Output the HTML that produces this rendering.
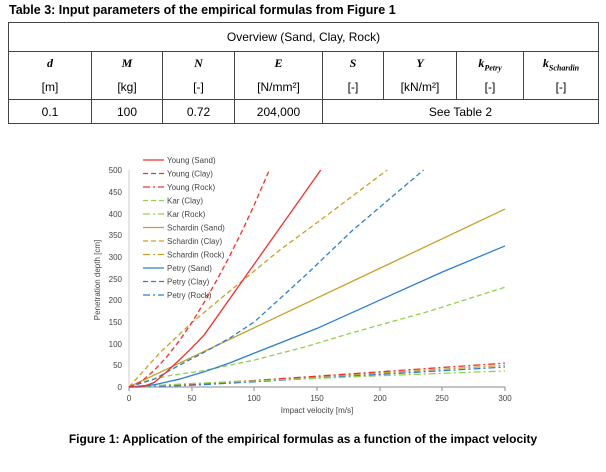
<!DOCTYPE html>
<html><head><meta charset="utf-8"><style>
body{margin:0;background:#fff;width:606px;height:472px;overflow:hidden;font-family:"Liberation Sans",sans-serif;}
.t{position:absolute;left:9px;top:3px;font-weight:bold;font-size:12.5px;}
table{position:absolute;left:8px;top:22px;width:591px;border-collapse:collapse;font-size:12px;}
td{border:1px solid #444;text-align:center;padding:0;}
td.n{border-top:none;border-bottom:none;}
.m{font-family:"Liberation Serif",serif;font-weight:bold;font-style:italic;font-size:12px;border-bottom:none;}
tr.u td{border-top:none;}
sub{font-size:8px;}
.cap{position:absolute;left:0;width:606px;top:432px;text-align:center;font-weight:bold;font-size:12px;}
</style></head><body>
<div class="t">Table 3: Input parameters of the empirical formulas from Figure 1</div>
<table>
<tr style="height:29px"><td colspan="8">Overview (Sand, Clay, Rock)</td></tr>
<tr style="height:24px"><td class="m" style="width:82px">d</td><td class="m" style="width:70px">M</td><td class="m" style="width:71px">N</td><td class="m" style="width:87px">E</td><td class="m" style="width:60px">S</td><td class="m" style="width:72px">Y</td><td class="m" style="width:66px">k<sub>Petry</sub></td><td class="m">k<sub>Schardin</sub></td></tr>
<tr class="u" style="height:24px"><td>[m]</td><td>[kg]</td><td>[-]</td><td>[N/mm²]</td><td>[-]</td><td>[kN/m²]</td><td>[-]</td><td>[-]</td></tr>
<tr style="height:24px"><td>0.1</td><td>100</td><td>0.72</td><td>204,000</td><td colspan="4">See Table 2</td></tr>
</table>
<svg width="606" height="472" style="position:absolute;left:0;top:0" font-family="Liberation Sans, sans-serif" font-size="8" fill="#444">
<g text-anchor="end">
<text x="122" y="390">0</text><text x="122" y="368">50</text><text x="122" y="347">100</text><text x="122" y="325">150</text><text x="122" y="303">200</text><text x="122" y="282">250</text><text x="122" y="260">300</text><text x="122" y="238">350</text><text x="122" y="217">400</text><text x="122" y="195">450</text><text x="122" y="173">500</text>
</g>
<g text-anchor="middle">
<text x="129" y="401">0</text><text x="192" y="401">50</text><text x="254" y="401">100</text><text x="317" y="401">150</text><text x="380" y="401">200</text><text x="442" y="401">250</text><text x="505" y="401">300</text>
<text x="317" y="413">Impact velocity [m/s]</text>
<text transform="translate(100,280) rotate(-90)">Penetration depth [cm]</text>
</g>
<g stroke="#888" stroke-width="1">
<line x1="129" y1="387" x2="505" y2="387"/>
<line x1="129" y1="170" x2="129" y2="387" stroke="#ccc"/>
<line x1="129" y1="387" x2="129" y2="391"/><line x1="192" y1="387" x2="192" y2="391"/><line x1="254" y1="387" x2="254" y2="391"/><line x1="317" y1="387" x2="317" y2="391"/><line x1="380" y1="387" x2="380" y2="391"/><line x1="442" y1="387" x2="442" y2="391"/><line x1="505" y1="387" x2="505" y2="391"/>
</g>
<g transform="translate(129,387) scale(1.2533,-0.434)" fill="none" stroke-width="1.3">
<polyline vector-effect="non-scaling-stroke" stroke="#c9a02a" stroke-dasharray="7,3,2,3" points="0,0 100,15 200,32 300,50"/>
<polyline vector-effect="non-scaling-stroke" stroke="#f03030" stroke-dasharray="7,3,2,3" points="0,0 50,5 100,15 200,35 300,55"/>
<polyline vector-effect="non-scaling-stroke" stroke="#2e7dd1" stroke-dasharray="7,3,2,3" points="0,0 50,4 100,12 200,29 300,46"/>
<polyline vector-effect="non-scaling-stroke" stroke="#92d050" stroke-dasharray="7,3,2,3" points="0,0 50,8 100,14 200,26 300,37"/>
<polyline vector-effect="non-scaling-stroke" stroke="#92d050" stroke-dasharray="5,3" points="0,0 15,15 30,25 60,38 80,50 100,62 140,92 178,125 240,175 300,230"/>
<polyline vector-effect="non-scaling-stroke" stroke="#c9a02a" points="0,0 300,410"/>
<polyline vector-effect="non-scaling-stroke" stroke="#c9a02a" stroke-dasharray="5,3" points="0,0 25,80 50,148 80,220 120,315 160,400 206,500"/>
<polyline vector-effect="non-scaling-stroke" stroke="#2e7dd1" points="0,0 20,5 40,18 60,35 80,55 100,78 150,135 200,200 250,265 300,325"/>
<polyline vector-effect="non-scaling-stroke" stroke="#2e7dd1" stroke-dasharray="5,3" points="0,0 20,18 40,50 60,80 80,112 100,150 140,255 178,360 235,500"/>
<polyline vector-effect="non-scaling-stroke" stroke="#f03030" points="0,0 10,0 20,10 30,35 40,62 50,90 60,120 153,500"/>
<polyline vector-effect="non-scaling-stroke" stroke="#f03030" stroke-dasharray="5,3" points="0,0 10,13 20,38 30,69 40,106 50,148 60,195 70,246 80,300 90,358 100,420 112,500"/>
</g>
<g stroke-width="1.3" fill="none">
<line x1="143" y1="160" x2="164" y2="160" stroke="#f03030"/>
<line x1="143" y1="173.5" x2="164" y2="173.5" stroke="#f03030" stroke-dasharray="5,3"/>
<line x1="143" y1="187" x2="164" y2="187" stroke="#f03030" stroke-dasharray="7,3,2,3"/>
<line x1="143" y1="200.5" x2="164" y2="200.5" stroke="#92d050" stroke-dasharray="5,3"/>
<line x1="143" y1="214" x2="164" y2="214" stroke="#92d050" stroke-dasharray="7,3,2,3"/>
<line x1="143" y1="227.5" x2="164" y2="227.5" stroke="#c9a02a"/>
<line x1="143" y1="241" x2="164" y2="241" stroke="#c9a02a" stroke-dasharray="5,3"/>
<line x1="143" y1="254.5" x2="164" y2="254.5" stroke="#c9a02a" stroke-dasharray="7,3,2,3"/>
<line x1="143" y1="268" x2="164" y2="268" stroke="#2e7dd1"/>
<line x1="143" y1="281.5" x2="164" y2="281.5" stroke="#2e7dd1" stroke-dasharray="5,3"/>
<line x1="143" y1="295" x2="164" y2="295" stroke="#2e7dd1" stroke-dasharray="7,3,2,3"/>
</g>
<g>
<text x="167" y="163">Young (Sand)</text><text x="167" y="176.5">Young (Clay)</text><text x="167" y="190">Young (Rock)</text><text x="167" y="203.5">Kar (Clay)</text><text x="167" y="217">Kar (Rock)</text><text x="167" y="230.5">Schardin (Sand)</text><text x="167" y="244">Schardin (Clay)</text><text x="167" y="257.5">Schardin (Rock)</text><text x="167" y="271">Petry (Sand)</text><text x="167" y="284.5">Petry (Clay)</text><text x="167" y="298">Petry (Rock)</text>
</g>
</svg>
<div class="cap">Figure 1: Application of the empirical formulas as a function of the impact velocity</div>
</body></html>
